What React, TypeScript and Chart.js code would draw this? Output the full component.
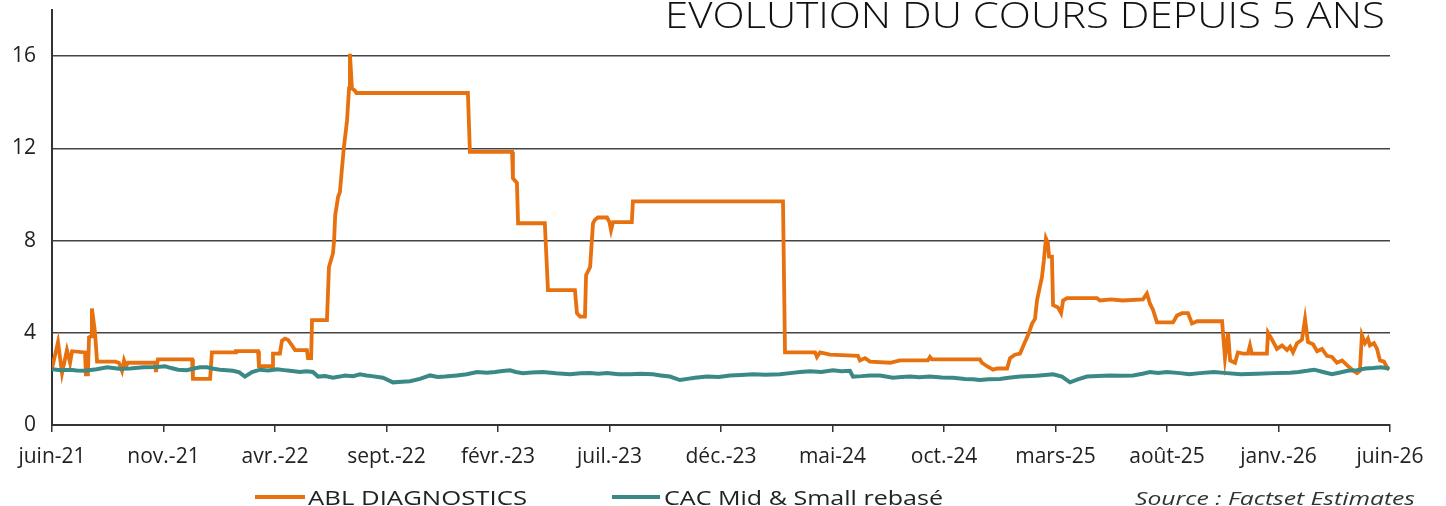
import React, { useEffect, useRef } from 'react';
import { Chart, registerables } from 'chart.js';

Chart.register(...registerables);

const xTickLabels = ['juin-21', 'nov.-21', 'avr.-22', 'sept.-22', 'févr.-23', 'juil.-23', 'déc.-23', 'mai-24', 'oct.-24', 'mars-25', 'août-25', 'janv.-26', 'juin-26'];
const yTickValues = [0, 4, 8, 12, 16];
const seriesNames = ['ABL DIAGNOSTICS', 'CAC Mid & Small rebasé'];
const titleText = 'EVOLUTION DU COURS DEPUIS 5 ANS';
const sourceText = 'Source : Factset Estimates';

// months elapsed since June 2021
const ablMonths = [0, 0.27, 0.45, 0.67, 0.81, 0.9, 1.48, 1.52, 1.61, 1.66, 1.75, 1.79, 1.93, 2.02, 2.83, 3.0, 3.14, 3.23, 3.32, 3.41, 4.62, 4.66, 4.75, 6.28, 6.32, 7.09, 7.17, 8.21, 8.25, 9.24, 9.28, 9.87, 9.91, 10.22, 10.31, 10.45, 10.58, 10.76, 10.9, 11.43, 11.48, 11.62, 11.66, 12.33, 12.42, 12.6, 12.65, 12.7, 12.83, 12.91, 13.0, 13.09, 13.23, 13.32, 13.36, 13.45, 13.59, 13.65, 18.65, 18.74, 20.63, 20.67, 20.85, 20.9, 22.1, 22.24, 23.45, 23.54, 23.68, 23.9, 23.95, 24.13, 24.26, 24.35, 24.48, 24.89, 25.0, 25.07, 25.16, 26.0, 26.05, 32.78, 32.87, 34.22, 34.3, 34.44, 34.89, 36.14, 36.23, 36.46, 36.68, 37.58, 38.03, 39.28, 39.37, 39.46, 41.61, 41.7, 41.93, 42.2, 42.4, 42.83, 42.96, 43.18, 43.41, 43.63, 43.77, 43.95, 44.08, 44.17, 44.3, 44.39, 44.48, 44.57, 44.66, 44.71, 44.84, 44.89, 45.11, 45.25, 45.34, 45.52, 46.86, 46.99, 47.5, 48.0, 48.92, 49.1, 49.24, 49.37, 49.55, 50.27, 50.45, 50.67, 50.94, 51.12, 51.35, 52.47, 52.6, 52.74, 52.83, 53.05, 53.18, 53.41, 53.63, 53.72, 53.8, 54.48, 54.53, 54.71, 54.93, 55.16, 55.38, 55.52, 55.65, 55.83, 56.05, 56.19, 56.32, 56.55, 56.73, 56.95, 57.17, 57.4, 57.62, 57.85, 58.07, 58.3, 58.52, 58.65, 58.74, 58.88, 59.01, 59.1, 59.28, 59.42, 59.55, 59.73, 59.87, 59.96];
const ablValues = [2.45, 3.6, 2.25, 3.25, 2.7, 3.2, 3.15, 2.2, 2.2, 3.8, 3.85, 5.05, 4.0, 2.75, 2.75, 2.7, 2.35, 2.8, 2.55, 2.7, 2.7, 2.3, 2.85, 2.85, 2.0, 2.0, 3.15, 3.15, 3.2, 3.2, 2.55, 2.55, 3.1, 3.1, 3.65, 3.75, 3.7, 3.45, 3.25, 3.25, 2.9, 2.9, 4.55, 4.55, 6.85, 7.45, 8.0, 9.1, 9.9, 10.1, 11.1, 12.05, 13.2, 14.6, 16.1, 14.6, 14.5, 14.4, 14.4, 11.85, 11.85, 10.7, 10.5, 8.75, 8.75, 5.85, 5.85, 4.85, 4.7, 4.7, 6.5, 6.85, 8.75, 8.9, 9.0, 9.0, 8.8, 8.45, 8.8, 8.8, 9.7, 9.7, 3.15, 3.15, 2.95, 3.15, 3.05, 3.0, 2.8, 2.9, 2.75, 2.7, 2.8, 2.8, 2.95, 2.85, 2.85, 2.7, 2.55, 2.4, 2.45, 2.45, 2.9, 3.05, 3.1, 3.6, 3.9, 4.4, 4.6, 5.4, 6.0, 6.4, 7.15, 8.1, 7.9, 7.3, 7.3, 5.2, 5.1, 4.85, 5.4, 5.5, 5.5, 5.4, 5.45, 5.4, 5.45, 5.7, 5.25, 5.0, 4.45, 4.45, 4.75, 4.85, 4.85, 4.4, 4.5, 4.5, 2.9, 4.0, 2.8, 2.7, 3.15, 3.1, 3.1, 3.45, 3.1, 3.1, 4.0, 3.7, 3.3, 3.45, 3.25, 3.4, 3.15, 3.55, 3.7, 4.6, 3.6, 3.5, 3.2, 3.3, 3.0, 2.95, 2.7, 2.8, 2.6, 2.4, 2.25, 2.35, 3.9, 3.55, 3.75, 3.45, 3.55, 3.3, 2.8, 2.75, 2.5, 2.4];

const cacMonths = [0, 0.4, 0.81, 1.1, 1.48, 2.0, 2.47, 3.0, 3.5, 4.1, 4.71, 5.07, 5.35, 5.65, 6.05, 6.3, 6.64, 6.95, 7.25, 7.53, 8.12, 8.4, 8.65, 8.97, 9.33, 9.7, 10.09, 10.4, 10.67, 11.12, 11.4, 11.7, 11.93, 12.25, 12.6, 12.9, 13.14, 13.5, 13.81, 14.1, 14.35, 14.84, 15.29, 15.7, 16.05, 16.5, 16.95, 17.3, 17.62, 18.16, 18.6, 19.06, 19.5, 19.87, 20.2, 20.54, 20.8, 21.12, 21.5, 22.02, 22.6, 23.23, 23.7, 24.13, 24.5, 24.89, 25.4, 25.92, 26.4, 26.95, 27.3, 27.71, 28.16, 28.5, 28.83, 29.37, 29.9, 30.4, 30.9, 31.43, 32.0, 32.65, 33.1, 33.54, 34.0, 34.5, 35.02, 35.4, 35.78, 35.92, 36.3, 36.68, 37.13, 37.71, 38.1, 38.48, 38.9, 39.37, 39.9, 40.4, 40.94, 41.3, 41.61, 42.0, 42.51, 42.9, 43.41, 43.9, 44.3, 44.89, 45.29, 45.65, 46.0, 46.41, 46.9, 47.44, 48.0, 48.48, 48.9, 49.24, 49.6, 50.0, 50.58, 51.0, 51.48, 52.1, 52.69, 53.3, 54.04, 54.8, 55.52, 55.9, 56.28, 56.6, 57.0, 57.4, 57.76, 58.1, 58.52, 58.9, 59.24, 59.6, 59.96];
const cacValues = [2.42, 2.38, 2.4, 2.36, 2.35, 2.42, 2.5, 2.44, 2.45, 2.5, 2.52, 2.55, 2.47, 2.4, 2.38, 2.44, 2.5, 2.5, 2.44, 2.4, 2.35, 2.28, 2.1, 2.3, 2.4, 2.36, 2.42, 2.38, 2.35, 2.3, 2.33, 2.3, 2.1, 2.12, 2.05, 2.1, 2.15, 2.12, 2.2, 2.15, 2.12, 2.05, 1.85, 1.88, 1.9, 2.0, 2.15, 2.08, 2.1, 2.15, 2.2, 2.3, 2.27, 2.3, 2.34, 2.37, 2.3, 2.25, 2.28, 2.3, 2.24, 2.2, 2.24, 2.25, 2.22, 2.25, 2.2, 2.2, 2.22, 2.2, 2.15, 2.1, 1.95, 2.0, 2.05, 2.1, 2.08, 2.15, 2.17, 2.2, 2.18, 2.2, 2.25, 2.3, 2.33, 2.3, 2.37, 2.33, 2.35, 2.1, 2.12, 2.15, 2.15, 2.05, 2.08, 2.1, 2.07, 2.1, 2.06, 2.05, 2.0, 1.98, 1.95, 1.98, 2.0, 2.05, 2.1, 2.12, 2.15, 2.2, 2.1, 1.85, 1.98, 2.1, 2.12, 2.15, 2.14, 2.15, 2.22, 2.3, 2.26, 2.3, 2.25, 2.2, 2.25, 2.3, 2.25, 2.2, 2.22, 2.25, 2.27, 2.3, 2.35, 2.4, 2.3, 2.2, 2.28, 2.35, 2.38, 2.45, 2.47, 2.5, 2.45, 2.4];

const ORANGE = '#E8710F';
const TEAL = '#3A8986';
const FONT = '"Open Sans", "DejaVu Sans", sans-serif';

// draw text stretched horizontally to a target width
function fitText(ctx: CanvasRenderingContext2D, text: string, x: number, y: number, width: number) {
  const w = ctx.measureText(text).width;
  const k = width / w;
  ctx.save();
  ctx.translate(x, y);
  ctx.scale(k, 1);
  ctx.textAlign = 'left';
  ctx.fillText(text, 0, 0);
  ctx.restore();
}

const decorPlugin = {
  id: 'decor',
  afterDraw(chart: any) {
    const ctx: CanvasRenderingContext2D = chart.ctx;
    ctx.save();
    ctx.textBaseline = 'alphabetic';
    ctx.fillStyle = '#111';
    ctx.font = `300 36px ${FONT}`;
    fitText(ctx, titleText, 665, 28, 720);
    ctx.lineWidth = 4;
    ctx.strokeStyle = ORANGE;
    ctx.beginPath();
    ctx.moveTo(255, 497);
    ctx.lineTo(305, 497);
    ctx.stroke();
    ctx.strokeStyle = TEAL;
    ctx.beginPath();
    ctx.moveTo(612, 497);
    ctx.lineTo(660, 497);
    ctx.stroke();
    ctx.fillStyle = '#222';
    ctx.font = `20px ${FONT}`;
    fitText(ctx, seriesNames[0], 308, 505, 219);
    fitText(ctx, seriesNames[1], 664, 505, 279);
    ctx.fillStyle = '#333';
    ctx.font = `italic 19px ${FONT}`;
    fitText(ctx, sourceText, 1135, 505, 280);
    ctx.restore();
  },
};

export default function App() {
  const ref = useRef<HTMLCanvasElement | null>(null);
  useEffect(() => {
    document.body.style.margin = '0';
    const canvas = ref.current!;
    const chart = new Chart(canvas, {
      type: 'line',
      data: {
        datasets: [
          {
            label: seriesNames[0],
            data: ablMonths.map((m, i) => ({ x: m, y: ablValues[i] })),
            borderColor: ORANGE,
            borderWidth: 3.8,
            pointRadius: 0,
            tension: 0,
            order: 2,
          },
          {
            label: seriesNames[1],
            data: cacMonths.map((m, i) => ({ x: m, y: cacValues[i] })),
            borderColor: TEAL,
            borderWidth: 4,
            pointRadius: 0,
            tension: 0,
            order: 1,
          },
        ],
      },
      options: {
        responsive: false,
        animation: false,
        devicePixelRatio: 1,
        layout: { padding: { top: 10, right: 56, left: 0, bottom: 0 } },
        plugins: { legend: { display: false }, title: { display: false }, tooltip: { enabled: false } },
        scales: {
          x: {
            type: 'linear',
            min: 0,
            max: 60,
            afterBuildTicks: (scale: any) => {
              scale.ticks = xTickLabels.map((_, i) => ({ value: i * 5 }));
            },
            afterFit: (scale: any) => {
              scale.height = 81;
            },
            ticks: {
              autoSkip: false,
              maxRotation: 0,
              minRotation: 0,
              padding: 12,
              color: '#222',
              font: { family: FONT, size: 21 },
              callback: (v: any) => xTickLabels[Math.round(Number(v) / 5)] ?? '',
            },
            grid: { drawOnChartArea: false, drawTicks: true, tickLength: 7, color: '#333', lineWidth: 1.5 },
            border: { display: true, color: '#333', width: 2 },
          },
          y: {
            min: 0,
            max: 18,
            afterBuildTicks: (scale: any) => {
              scale.ticks = yTickValues.map((v) => ({ value: v }));
            },
            afterFit: (scale: any) => {
              scale.width = 52;
              scale.paddingTop = 0;
              scale.paddingBottom = 0;
            },
            ticks: {
              padding: 16,
              color: '#222',
              font: { family: FONT, size: 21 },
            },
            grid: { drawTicks: false, color: '#444', lineWidth: 1.5 },
            border: { display: true, color: '#333', width: 2 },
          },
        },
      },
      plugins: [decorPlugin],
    } as any);
    return () => chart.destroy();
  }, []);
  return (
    <div style={{ position: 'fixed', left: 0, top: 0, width: 1446, height: 506, background: '#fff' }}>
      <canvas ref={ref} width={1446} height={506} style={{ width: 1446, height: 506, display: 'block' }} />
    </div>
  );
}
